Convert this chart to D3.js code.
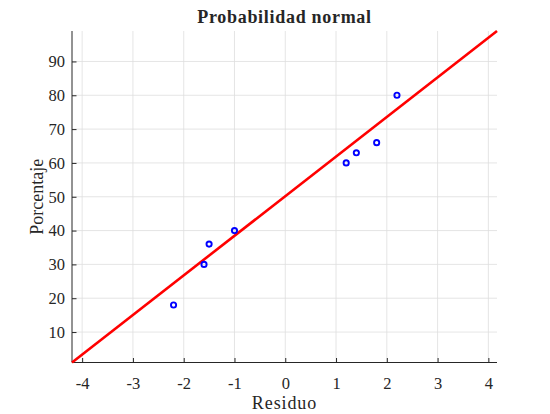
<!DOCTYPE html>
<html>
<head>
<meta charset="utf-8">
<script src="https://cdn.jsdelivr.net/npm/d3@7"></script>
<style>
  html, body { margin: 0; padding: 0; background: #fff; }
  svg { display: block; }
  text { font-family: "Liberation Serif", "Times New Roman", serif; fill: #262626; }
</style>
</head>
<body>
<div id="chart"></div>
<script>
// Data
const residuo    = [-2.2, -1.6, -1.5, -1.0, 1.2, 1.4, 1.8, 2.2];
const porcentaje = [18, 30, 36, 40, 60, 63, 66, 80];
// Reference (fit) line endpoints
const lineX = [-4.2, 4.17];
const lineY = [1, 99];
// Axis ticks
const xTicks = [-4, -3, -2, -1, 0, 1, 2, 3, 4];
const yTicks = [10, 20, 30, 40, 50, 60, 70, 80, 90];
const xDomain = [-4.2, 4.17];
const yDomain = [1, 99];

const W = 550, H = 414;
const m = { left: 72, right: 53, top: 31, bottom: 51.5 };
const iw = W - m.left - m.right, ih = H - m.top - m.bottom;

const svg = d3.select("#chart").append("svg").attr("width", W).attr("height", H);
const g = svg.append("g").attr("transform", `translate(${m.left},${m.top})`);

const x = d3.scaleLinear().domain(xDomain).range([0, iw]);
const y = d3.scaleLinear().domain(yDomain).range([ih, 0]);

// Grid
g.append("g").selectAll("line").data(xTicks).join("line")
  .attr("x1", d => x(d)).attr("x2", d => x(d)).attr("y1", 0).attr("y2", ih)
  .attr("stroke", "#dedede").attr("stroke-width", 0.8);
g.append("g").selectAll("line").data(yTicks).join("line")
  .attr("y1", d => y(d)).attr("y2", d => y(d)).attr("x1", 0).attr("x2", iw)
  .attr("stroke", "#dedede").attr("stroke-width", 0.8);

// Axes
const xAxis = g.append("g").attr("transform", `translate(0,${ih})`)
  .call(d3.axisBottom(x).tickValues(xTicks).tickSizeInner(-4.5).tickSizeOuter(0).tickPadding(14.5)
        .tickFormat(d => d));
const yAxis = g.append("g")
  .call(d3.axisLeft(y).tickValues(yTicks).tickSizeInner(-4.5).tickSizeOuter(0).tickPadding(7)
        .tickFormat(d => d));
[xAxis, yAxis].forEach(a => {
  a.attr("font-family", null).attr("font-size", null);
  a.select(".domain").attr("stroke", "#262626").attr("stroke-width", 1);
  a.selectAll(".tick line").attr("stroke", "#262626").attr("stroke-width", 1);
  a.selectAll(".tick text").attr("font-family", "Liberation Serif, serif")
    .attr("font-size", 16.5).attr("fill", "#262626");
});
xAxis.select(".domain").attr("d", `M0,0H${iw}`);
yAxis.select(".domain").attr("d", `M0,${ih}V0`);

// Fit line
g.append("line")
  .attr("x1", x(lineX[0])).attr("y1", y(lineY[0]))
  .attr("x2", x(lineX[1])).attr("y2", y(lineY[1]))
  .attr("stroke", "#ff0000").attr("stroke-width", 2.6);

// Points
g.append("g").selectAll("circle").data(residuo.map((r, i) => [r, porcentaje[i]])).join("circle")
  .attr("cx", d => x(d[0])).attr("cy", d => y(d[1])).attr("r", 2.6)
  .attr("fill", "none").attr("stroke", "#0000ff").attr("stroke-width", 1.9);

// Title & labels
svg.append("text").attr("x", m.left + iw / 2).attr("y", 23.3)
  .attr("text-anchor", "middle").attr("font-size", 18).attr("font-weight", "bold")
  .attr("letter-spacing", 0.7)
  .attr("fill", "#000").text("Probabilidad normal");
svg.append("text").attr("x", m.left + iw / 2).attr("y", 408.5)
  .attr("text-anchor", "middle").attr("font-size", 18).attr("letter-spacing", 0.9)
  .text("Residuo");
svg.append("text")
  .attr("transform", `translate(42.5,${m.top + ih / 2}) rotate(-90)`)
  .attr("text-anchor", "middle").attr("font-size", 18).text("Porcentaje");
</script>
</body>
</html>
